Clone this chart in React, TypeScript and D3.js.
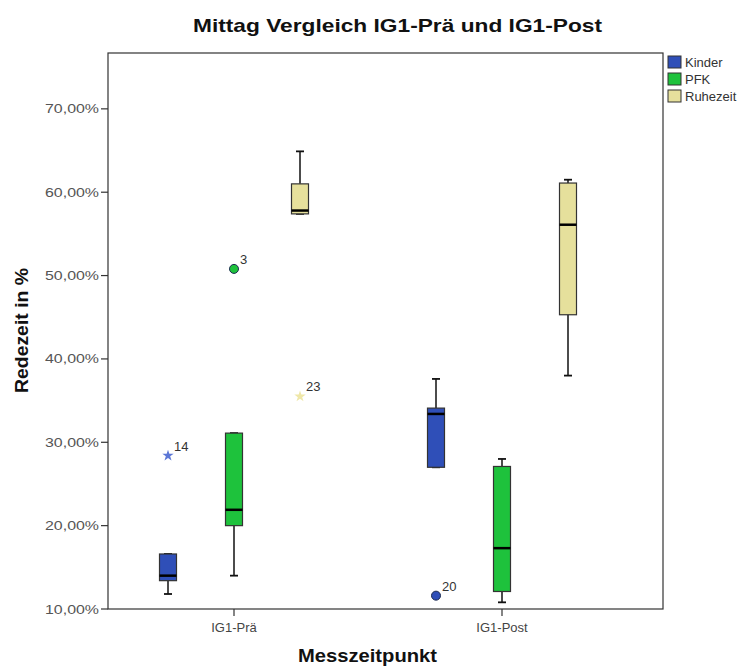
import React from "react";
import * as d3 from "d3";

const categories = ["IG1-Prä", "IG1-Post"];
const seriesNames = ["Kinder", "PFK", "Ruhezeit"];
const seriesColors = ["#2f4fb8", "#1ec23c", "#e6e09c"];
const starColors = ["#5c77d6", "#1ec23c", "#efe7a8"];

// [category] -> [whiskerLow, q1, median, q3, whiskerHigh]
const kinderStats = [
  [11.8, 13.4, 14.0, 16.6, 16.6],
  [27.0, 27.0, 33.4, 34.1, 37.6],
];
const pfkStats = [
  [14.0, 20.0, 21.9, 31.1, 31.1],
  [10.8, 12.1, 17.3, 27.1, 28.0],
];
const ruheStats = [
  [57.4, 57.4, 57.8, 61.0, 64.9],
  [38.0, 45.3, 56.1, 61.1, 61.5],
];
const allStats = [kinderStats, pfkStats, ruheStats];

// outliers
const outCat = [0, 0, 0, 1];
const outSeries = [0, 1, 2, 0];
const outValue = [28.4, 50.8, 35.5, 11.6];
const outLabel = ["14", "3", "23", "20"];
const outType = ["star", "circle", "star", "circle"];

const yTicks = [10, 20, 30, 40, 50, 60, 70];

export default function App() {
  const W = 749, H = 666;
  const left = 108, right = 663, top = 53, bottom = 609;
  const y = d3.scaleLinear().domain([10, 76.7]).range([bottom, top]);
  const x = d3.scalePoint<string>().domain(categories).range([234, 502]);
  const off = d3.scalePoint<string>().domain(seriesNames).range([-66, 66]);
  const bw = 17;
  const fmt = (v: number) => v.toFixed(2).replace(".", ",") + "%";
  const star = d3.symbol().type(d3.symbolStar).size(40)() as string;

  return (
    <svg width={W} height={H} style={{ position: "absolute", left: 0, top: 0, fontFamily: "Liberation Sans, Arial, sans-serif" }}>
      <rect x={0} y={0} width={W} height={H} fill="#fff" />
      <text x={397.5} y={32} textAnchor="middle" fontSize={18.5} fontWeight="bold" fill="#111" textLength={409} lengthAdjust="spacingAndGlyphs">
        Mittag Vergleich IG1-Prä und IG1-Post
      </text>
      <rect x={left} y={top} width={right - left} height={bottom - top} fill="none" stroke="#333" strokeWidth={1.2} />
      {yTicks.map((t) => (
        <g key={t}>
          <line x1={left - 7} x2={left} y1={y(t)} y2={y(t)} stroke="#333" strokeWidth={1.2} />
          <text x={left - 9} y={y(t) + 4.5} textAnchor="end" fontSize={13} fill="#555" textLength={54} lengthAdjust="spacingAndGlyphs">{fmt(t)}</text>
        </g>
      ))}
      {categories.map((c) => (
        <g key={c}>
          <line x1={x(c)!} x2={x(c)!} y1={bottom} y2={bottom + 7} stroke="#333" strokeWidth={1.2} />
          <text x={x(c)!} y={bottom + 23} textAnchor="middle" fontSize={13} fill="#444">{c}</text>
        </g>
      ))}
      <text x={367.5} y={662} textAnchor="middle" fontSize={18.5} fontWeight="bold" fill="#111" textLength={139} lengthAdjust="spacingAndGlyphs">Messzeitpunkt</text>
      <text transform={`translate(28,330.5) rotate(-90)`} textAnchor="middle" fontSize={18} fontWeight="bold" fill="#111" textLength={125} lengthAdjust="spacingAndGlyphs">Redezeit in %</text>
      {allStats.map((stats, si) =>
        stats.map((s, ci) => {
          const cx = x(categories[ci])! + off(seriesNames[si])!;
          const [lo, q1, med, q3, hi] = s;
          return (
            <g key={`${si}-${ci}`}>
              <line x1={cx} x2={cx} y1={y(hi)} y2={y(q3)} stroke="#111" strokeWidth={1.5} />
              <line x1={cx} x2={cx} y1={y(q1)} y2={y(lo)} stroke="#111" strokeWidth={1.5} />
              <line x1={cx - 4} x2={cx + 4} y1={y(hi)} y2={y(hi)} stroke="#111" strokeWidth={1.8} />
              <line x1={cx - 4} x2={cx + 4} y1={y(lo)} y2={y(lo)} stroke="#111" strokeWidth={1.8} />
              <rect x={cx - bw / 2} y={y(q3)} width={bw} height={Math.max(1, y(q1) - y(q3))} fill={seriesColors[si]} stroke="#333" strokeWidth={1.2} />
              <line x1={cx - bw / 2} x2={cx + bw / 2} y1={y(med)} y2={y(med)} stroke="#000" strokeWidth={2.5} />
            </g>
          );
        })
      )}
      {outValue.map((v, i) => {
        const cx = x(categories[outCat[i]])! + off(seriesNames[outSeries[i]])!;
        const cy = y(v);
        return (
          <g key={i}>
            {outType[i] === "circle" ? (
              <circle cx={cx} cy={cy} r={4.5} fill={seriesColors[outSeries[i]]} stroke="#1a2a50" strokeWidth={1} />
            ) : (
              <path d={star} transform={`translate(${cx},${cy})`} fill={starColors[outSeries[i]]} />
            )}
            <text x={cx + 6} y={cy - 5} fontSize={13} fill="#333">{outLabel[i]}</text>
          </g>
        );
      })}
      {seriesNames.map((n, i) => (
        <g key={n}>
          <rect x={668} y={56 + i * 17} width={13} height={12} fill={seriesColors[i]} stroke="#333" strokeWidth={1} />
          <text x={685} y={66.5 + i * 17} fontSize={13} fill="#333">{n}</text>
        </g>
      ))}
    </svg>
  );
}
